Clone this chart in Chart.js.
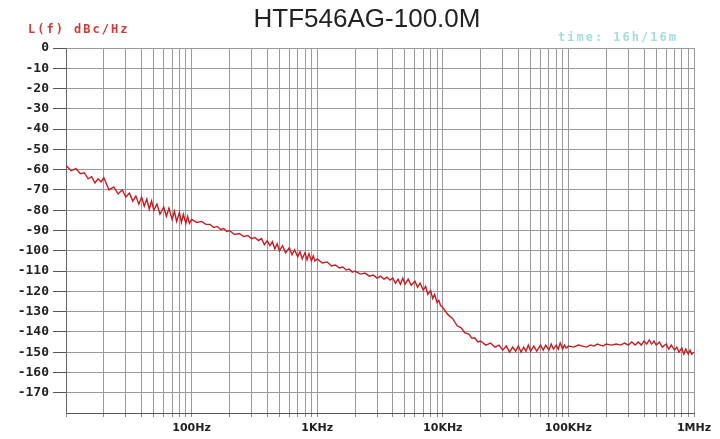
<!DOCTYPE html>
<html>
<head>
<meta charset="utf-8">
<script src="https://cdn.jsdelivr.net/npm/chart.js@4/dist/chart.umd.min.js"></script>
<style>
  html, body { margin: 0; padding: 0; background: #fff; }
  #wrap { width: 720px; height: 439px; position: relative; }
</style>
</head>
<body>
<div id="wrap"><canvas id="pn"></canvas></div>
<script>
// texts
const chartTitle = "HTF546AG-100.0M";
const yUnitLabel = "L(f) dBc/Hz";
const timeLabel = "time: 16h/16m";

// offset frequencies: mantissa steps inside each decade
const steps = [1, 1.1, 1.2, 1.3, 1.4, 1.5, 1.6, 1.7, 1.8, 1.9,
  2, 2.2, 2.4, 2.6, 2.8, 3, 3.2, 3.4, 3.6, 3.8,
  4, 4.2, 4.4, 4.6, 4.8, 5, 5.3, 5.6, 6, 6.3,
  6.6, 7, 7.3, 7.6, 8, 8.3, 8.6, 9, 9.3, 9.6];
const decadeStarts = [10, 100, 1000, 10000, 100000];

// phase noise dBc/Hz, one array per decade
const level10Hz = [-58, -60.5, -59.5, -62, -61.5, -64.5, -63.5, -66.5, -64.5, -66,
  -64, -70, -68.5, -72, -70, -73.5, -71.5, -75.5, -73, -77,
  -73.5, -78, -74.5, -79.5, -75.5, -80, -77, -82, -78.5, -83,
  -79, -84.5, -80.5, -85.5, -81, -86, -82, -86.5, -83, -86.5];
const level100Hz = [-84.5, -86, -85.5, -87, -87, -88.5, -88, -89.5, -89, -90.5,
  -90, -92, -91.5, -93, -92.5, -94, -93.5, -95, -94, -97,
  -95, -97.5, -95.5, -99, -96.5, -100, -97.5, -101, -98.5, -102,
  -99.5, -103, -100.5, -104, -101, -104.5, -101.5, -105, -102.5, -105];
const level1kHz = [-104, -106, -105.5, -107.5, -107, -108.5, -108, -109.5, -109, -110.5,
  -110, -111.5, -111, -112.5, -112, -113.5, -112.5, -114, -113, -114.5,
  -113.5, -116, -114, -116.5, -113.5, -116.5, -114, -117, -115, -118,
  -116, -119.5, -117.5, -121.5, -119.5, -123.5, -121.5, -125.5, -124.5, -127];
const level10kHz = [-128, -131.5, -133.5, -137, -138, -140.5, -141, -143, -143, -145,
  -144.5, -146.5, -145.5, -147.5, -146.5, -149, -147, -150, -147.5, -149.5,
  -147, -150, -147.5, -149.5, -146.5, -149.5, -147, -149.5, -146.5, -149,
  -146.5, -149, -146, -148.5, -146.5, -148.5, -145.5, -148.5, -146.5, -148];
const level100kHz = [-147, -147.5, -146.5, -147, -147.5, -146.5, -147, -146, -146.5, -147,
  -146, -146.5, -146, -146.5, -145.5, -146.5, -145, -146.5, -145, -146.5,
  -144.5, -146, -144, -146, -144.5, -146.5, -145, -147.5, -146, -148.5,
  -146.5, -149, -147.5, -150, -148, -151, -148.5, -151, -149, -151];
const endFreq = 1000000;
const endLevel = -150;

// axis ticks
const xMin = 10, xMax = 1000000;
const yMin = -180, yMax = 0, yStep = 10;
const xLabelFreqs = [100, 1000, 10000, 100000, 1000000];
const xLabelTexts = ["100Hz", "1KHz", "10KHz", "100KHz", "1MHz"];
const gridMantissas = [1, 2, 3, 4, 5, 6, 7, 8, 9];

const levelsByDecade = [level10Hz, level100Hz, level1kHz, level10kHz, level100kHz];
const points = [];
decadeStarts.forEach((d, k) => {
  steps.forEach((m, i) => points.push({ x: m * d, y: levelsByDecade[k][i] }));
});
points.push({ x: endFreq, y: endLevel });

const gridValues = [];
decadeStarts.forEach(d => gridMantissas.forEach(m => gridValues.push(m * d)));
gridValues.push(xMax);

const textPlugin = {
  id: "texts",
  afterDraw(chart) {
    const ctx = chart.ctx;
    ctx.save();
    ctx.fillStyle = "#222";
    ctx.font = "26px 'Liberation Sans', Arial, sans-serif";
    ctx.textAlign = "center";
    ctx.textBaseline = "alphabetic";
    ctx.fillText(chartTitle, 367, 27);

    ctx.font = "bold 12px 'DejaVu Sans Mono', monospace";
    ctx.letterSpacing = "2px";
    ctx.textAlign = "left";
    ctx.textBaseline = "middle";
    ctx.fillStyle = "#d23a3a";
    ctx.fillText(yUnitLabel, 28, 30);
    ctx.fillStyle = "#a6dcdc";
    ctx.fillText(timeLabel, 558, 38);
    ctx.restore();
  }
};

new Chart(document.getElementById("pn"), {
  type: "line",
  data: {
    datasets: [{
      data: points,
      borderColor: "#c81c22",
      borderWidth: 1.4,
      pointRadius: 0,
      tension: 0,
      fill: false
    }]
  },
  options: {
    responsive: true,
    maintainAspectRatio: false,
    animation: false,
    layout: { padding: { top: 48, right: 26, left: 0, bottom: 0 } },
    plugins: { legend: { display: false }, tooltip: { enabled: false }, title: { display: false } },
    scales: {
      x: {
        type: "logarithmic",
        min: xMin,
        max: xMax,
        afterBuildTicks: s => { s.ticks = gridValues.map(v => ({ value: v })); },
        afterFit: s => { s.height = 26; },
        border: { display: true, color: "#555", width: 1 },
        grid: {
          color: "#9a9a9a",
          lineWidth: 1,
          drawTicks: true,
          tickLength: 4,
          tickColor: "#888"
        },
        ticks: {
          autoSkip: false,
          maxRotation: 0,
          padding: 5,
          color: "#222",
          font: { family: "'DejaVu Sans', sans-serif", size: 11, weight: "bold" },
          callback: v => {
            const i = xLabelFreqs.indexOf(v);
            return i >= 0 ? xLabelTexts[i] : "";
          }
        }
      },
      y: {
        min: yMin,
        max: yMax,
        afterFit: s => { s.width = 66; },
        border: { display: true, color: "#666", width: 1 },
        grid: {
          color: "#9a9a9a",
          lineWidth: 1,
          drawTicks: true,
          tickLength: 13,
          tickColor: c => (c.tick && c.tick.value === yMin ? "rgba(0,0,0,0)" : "#555")
        },
        ticks: {
          stepSize: yStep,
          padding: 4,
          color: "#222",
          font: { family: "'DejaVu Sans Mono', monospace", size: 13, weight: "bold" },
          callback: v => (v === yMin ? "" : String(v))
        }
      }
    }
  },
  plugins: [textPlugin]
});
</script>
</body>
</html>
